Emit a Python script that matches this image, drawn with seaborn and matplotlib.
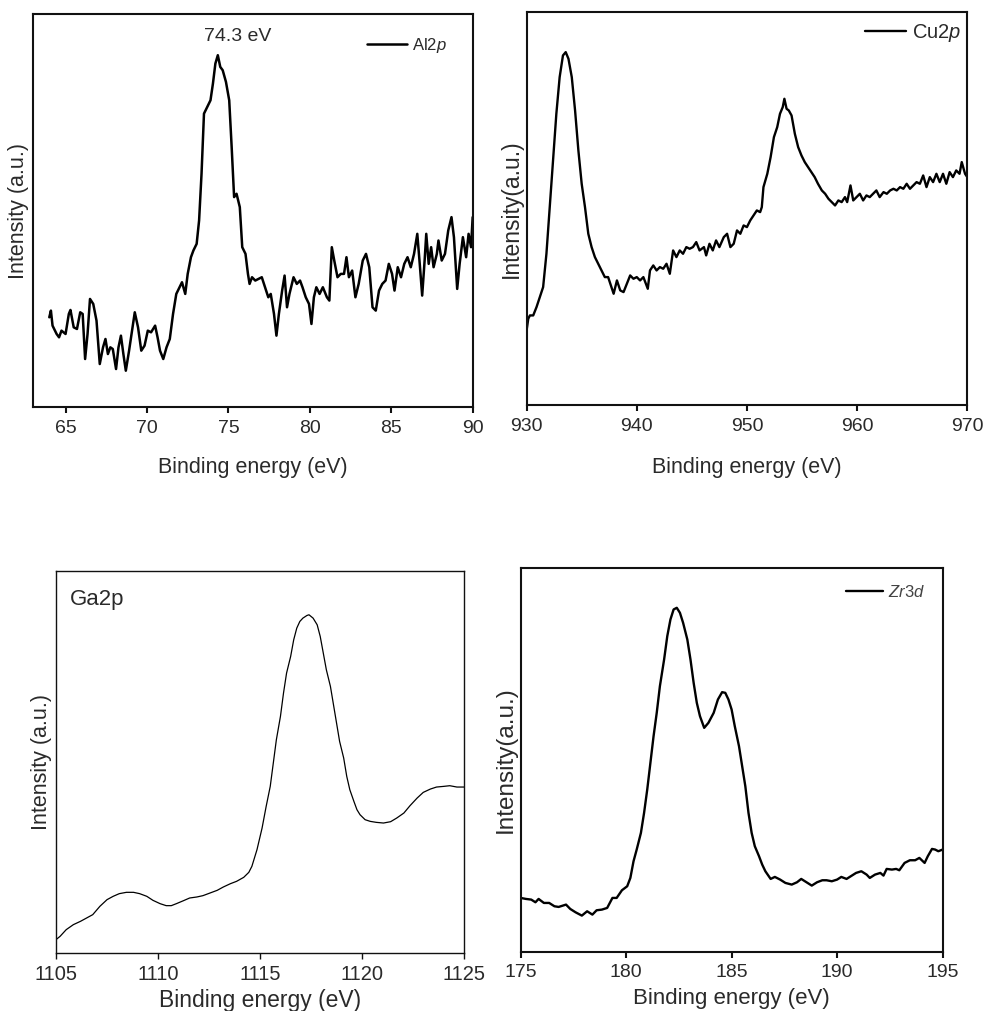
import numpy as np
import pandas as pd
import matplotlib
matplotlib.use("Agg")
import matplotlib.pyplot as plt
import seaborn as sns

# ---------------- data ----------------
al_energy = [64.0, 64.1, 64.2, 64.45, 64.6, 64.75, 65.0, 65.2, 65.3, 65.5, 65.7, 65.9, 66.05, 66.2, 66.35,
             66.5, 66.7, 66.9, 67.1, 67.3, 67.45, 67.6, 67.75, 67.9, 68.1, 68.25, 68.4, 68.55, 68.7, 68.9,
             69.05, 69.25, 69.45, 69.65, 69.85, 70.05, 70.25, 70.5, 70.65, 70.8, 71.0, 71.2, 71.4, 71.6,
             71.8, 72.0, 72.15, 72.35, 72.5, 72.7, 72.85, 73.05, 73.2, 73.35, 73.5, 73.7, 73.9, 74.05,
             74.2, 74.35, 74.5, 74.65, 74.85, 75.05, 75.2, 75.35, 75.5, 75.7, 75.85, 76.05, 76.2, 76.3,
             76.45, 76.65, 76.85, 77.05, 77.25, 77.45, 77.6, 77.8, 77.95, 78.1, 78.3, 78.45, 78.6, 78.75,
             79.0, 79.2, 79.4, 79.55, 79.75, 79.95, 80.1, 80.25, 80.4, 80.6, 80.8, 81.05, 81.2, 81.35,
             81.5, 81.7, 81.9, 82.1, 82.25, 82.4, 82.6, 82.8, 83.0, 83.25, 83.45, 83.65, 83.85, 84.05,
             84.25, 84.45, 84.65, 84.85, 85.05, 85.2, 85.4, 85.6, 85.8, 86.0, 86.2, 86.4, 86.6, 86.75,
             86.9, 87.05, 87.15, 87.3, 87.45, 87.6, 87.8, 87.9, 88.1, 88.3, 88.5, 88.7, 88.85, 89.05,
             89.2, 89.4, 89.6, 89.75, 89.9, 90.0]
al_intensity = [270, 290, 245, 220, 210, 230, 220, 280, 292, 240, 235, 285, 280, 145, 220,
                325, 310, 260, 130, 180, 205, 160, 180, 175, 115, 180, 215, 160, 110, 170,
                220, 285, 240, 170, 185, 230, 225, 245, 210, 170, 145, 180, 205, 280,
                340, 360, 375, 340, 400, 450, 470, 490, 560, 700, 880, 900, 920, 970,
                1030, 1055, 1020, 1010, 975, 920, 780, 630, 640, 600, 480, 460, 400, 370,
                390, 380, 385, 390, 360, 330, 340, 280, 215, 280, 350, 395, 300, 340,
                390, 370, 380, 360, 330, 310, 250, 330, 360, 340, 360, 330, 320, 480,
                440, 390, 400, 400, 450, 390, 410, 330, 370, 440, 460, 420, 300, 290,
                350, 370, 380, 430, 400, 350, 420, 390, 430, 450, 420, 460, 520, 430,
                335, 440, 520, 430, 480, 420, 460, 500, 440, 460, 530, 570, 510, 355,
                430, 510, 450, 520, 480, 570]

cu_energy = [930.0, 930.15, 930.3, 930.6, 930.9, 931.2, 931.5, 931.8, 932.1, 932.4, 932.7, 933.0, 933.3,
             933.55, 933.8, 934.1, 934.4, 934.7, 935.0, 935.3, 935.6, 935.9, 936.2, 936.5, 936.8, 937.1,
             937.4, 937.6, 937.9, 938.2, 938.5, 938.8, 939.1, 939.4, 939.7, 940.0, 940.3, 940.6, 941.0,
             941.2, 941.5, 941.8, 942.1, 942.4, 942.7, 943.0, 943.3, 943.6, 943.9, 944.2, 944.5, 944.8,
             945.1, 945.4, 945.7, 946.1, 946.3, 946.6, 946.9, 947.2, 947.5, 947.9, 948.2, 948.5, 948.8,
             949.1, 949.4, 949.7, 950.0, 950.3, 950.6, 950.9, 951.2, 951.35, 951.5, 951.85, 952.15,
             952.45, 952.75, 953.0, 953.25, 953.4, 953.6, 953.8, 954.05, 954.35, 954.65, 954.95, 955.25,
             955.55, 955.85, 956.15, 956.45, 956.8, 957.1, 957.4, 957.7, 958.0, 958.3, 958.6, 958.9,
             959.1, 959.4, 959.65, 959.95, 960.25, 960.55, 960.85, 961.15, 961.45, 961.75, 962.05,
             962.4, 962.7, 963.0, 963.3, 963.6, 963.9, 964.2, 964.5, 964.8, 965.1, 965.4, 965.7, 966.0,
             966.3, 966.6, 966.9, 967.2, 967.5, 967.8, 968.1, 968.4, 968.7, 969.0, 969.3, 969.5, 969.8,
             970.0]
cu_intensity = [225, 260, 270, 270, 295, 325, 355, 455, 595, 735, 875, 985, 1050,
                1060, 1040, 985, 885, 765, 665, 595, 515, 475, 445, 425, 405, 385,
                385, 365, 335, 375, 345, 340, 365, 390, 380, 385, 375, 385, 350,
                405, 420, 405, 415, 410, 425, 395, 465, 445, 465, 455, 475, 470,
                475, 490, 465, 475, 450, 485, 465, 495, 475, 505, 515, 475, 485,
                525, 515, 540, 535, 555, 570, 585, 580, 595, 655, 695, 745,
                805, 835, 875, 895, 920, 890, 885, 870, 815, 775, 750, 730,
                715, 700, 685, 665, 645, 635, 620, 610, 600, 615, 610, 625,
                610, 660, 615, 625, 635, 615, 630, 625, 635, 645, 625,
                640, 635, 645, 650, 645, 655, 650, 665, 650, 660, 670, 665, 690,
                655, 685, 670, 695, 670, 695, 665, 700, 685, 705, 695, 730, 695,
                685]

ga_energy = [1105.0, 1105.2, 1105.5, 1105.85, 1106.2, 1106.5, 1106.8, 1107.15, 1107.5, 1107.8, 1108.1,
             1108.45, 1108.8, 1109.1, 1109.45, 1109.75, 1110.1, 1110.4, 1110.65, 1110.9, 1111.25,
             1111.55, 1111.9, 1112.2, 1112.55, 1112.9, 1113.2, 1113.55, 1113.85, 1114.2, 1114.45,
             1114.6, 1114.85, 1115.1, 1115.3, 1115.5, 1115.65, 1115.8, 1116.0, 1116.15, 1116.3, 1116.5,
             1116.65, 1116.8, 1116.95, 1117.1, 1117.3, 1117.4, 1117.6, 1117.8, 1117.95, 1118.1, 1118.25,
             1118.45, 1118.6, 1118.75, 1118.9, 1119.1, 1119.25, 1119.4, 1119.6, 1119.75, 1119.9,
             1120.15, 1120.4, 1120.7, 1121.05, 1121.4, 1121.7, 1122.05, 1122.35, 1122.7, 1123.0,
             1123.35, 1123.65, 1124.0, 1124.3, 1124.65, 1125.0]
ga_intensity = [40, 50, 70, 85, 95, 105, 115, 140, 160, 170, 178,
                182, 182, 178, 170, 158, 148, 142, 142, 148, 157,
                165, 168, 172, 180, 188, 198, 208, 215, 227, 242,
                260, 310, 375, 440, 500, 570, 640, 710, 780, 840, 890,
                940, 975, 995, 1005, 1013, 1015, 1005, 985, 950, 900, 850,
                800, 745, 690, 635, 585, 530, 490, 455, 430, 415,
                400, 395, 392, 390, 394, 405, 420, 442, 465, 482,
                492, 498, 500, 502, 498, 498]

zr_energy = [175.0, 175.25, 175.5, 175.7, 175.85, 176.1, 176.35, 176.6, 176.8, 177.15, 177.35, 177.6,
             177.9, 178.15, 178.4, 178.6, 178.85, 179.1, 179.35, 179.55, 179.8, 180.05, 180.2, 180.35,
             180.5, 180.7, 180.85, 181.0, 181.15, 181.3, 181.45, 181.6, 181.8, 181.95, 182.1, 182.25,
             182.4, 182.55, 182.7, 182.9, 183.05, 183.2, 183.35, 183.5, 183.7, 183.9, 184.15, 184.35,
             184.55, 184.7, 184.85, 185.0, 185.15, 185.35, 185.5, 185.65, 185.8, 185.95, 186.1, 186.3,
             186.45, 186.6, 186.85, 187.05, 187.3, 187.55, 187.85, 188.1, 188.3, 188.55, 188.8, 189.05,
             189.3, 189.5, 189.75, 190.0, 190.2, 190.45, 190.7, 190.9, 191.15, 191.4, 191.55, 191.8,
             192.05, 192.2, 192.35, 192.6, 192.8, 192.95, 193.2, 193.45, 193.7, 193.9, 194.15, 194.3,
             194.5, 194.65, 194.8, 195.0]
zr_intensity = [162, 159, 157, 149, 159, 147, 147, 137, 135, 142, 129, 119,
                109, 122, 112, 125, 127, 132, 162, 162, 185, 197, 222, 272,
                307, 357, 417, 487, 567, 647, 717, 797, 877, 947, 997, 1027,
                1032, 1017, 987, 937, 877, 807, 747, 707, 672, 687, 717, 757,
                779, 777, 757, 727, 677, 617, 557, 497, 417, 357, 317, 287,
                262, 242, 219, 225, 217, 207, 202, 209, 219, 209, 199, 209,
                215, 215, 212, 217, 225, 219, 229, 237, 242, 232, 222, 232,
                237, 229, 249, 247, 249, 245, 267, 275, 275, 282, 267, 287,
                309, 307, 302, 307]

al_ticks = [65, 70, 75, 80, 85, 90]
cu_ticks = [930, 940, 950, 960, 970]
ga_ticks = [1105, 1110, 1115, 1120, 1125]
zr_ticks = [175, 180, 185, 190, 195]

# ---------------- style ----------------
sns.set_style("ticks")
plt.rcParams['font.family'] = ['Liberation Sans', 'DejaVu Sans']
plt.rcParams['mathtext.fontset'] = 'custom'
plt.rcParams['mathtext.rm'] = 'Liberation Sans'
plt.rcParams['mathtext.it'] = 'Liberation Sans:italic'

TXT = '#2a2a2a'
fig = plt.figure(figsize=(9.88, 10.11), dpi=100)

def setup(ax, xlim, ylim, ticks, lw_spine, tick_fs, xl_fs, yl_fs, ylabel, xl_y, yl_x, pad):
    ax.set_xlim(*xlim)
    ax.set_ylim(*ylim)
    ax.set_xticks(ticks)
    ax.set_yticks([])
    for s in ax.spines.values():
        s.set_linewidth(lw_spine)
        s.set_color('#111111')
    ax.tick_params(axis='x', direction='out', length=4, width=lw_spine, pad=pad,
                   labelsize=tick_fs, colors='#111111', labelcolor=TXT)
    ax.set_xlabel('Binding energy (eV)', fontsize=xl_fs, color=TXT)
    ax.set_ylabel(ylabel, fontsize=yl_fs, color=TXT)
    ax.xaxis.set_label_coords(0.5, xl_y)
    ax.yaxis.set_label_coords(yl_x, 0.5)

# Panel 1: Al2p
ax1 = fig.add_axes([0.0334, 0.597, 0.445, 0.389])
sns.lineplot(x=al_energy, y=al_intensity, ax=ax1, color='black', lw=1.8, label=r'Al2$\it{p}$')
setup(ax1, (63, 90), (0, 1178), al_ticks, 1.5, 14, 15.5, 15.5, 'Intensity (a.u.)', -0.125, -0.009, 5)
ax1.text(0.466, 0.942, '74.3 eV', transform=ax1.transAxes, ha='center', va='center',
         fontsize=14, color=TXT)
ax1.legend(loc='center right', bbox_to_anchor=(0.94, 0.921), frameon=False, fontsize=12,
           handlelength=2.4, handletextpad=0.3, borderpad=0, borderaxespad=0, labelcolor=TXT)

# Panel 2: Cu2p
ax2 = fig.add_axes([0.533, 0.599, 0.446, 0.389])
sns.lineplot(x=cu_energy, y=cu_intensity, ax=ax2, color='black', lw=1.7, label=r'Cu2$\it{p}$')
setup(ax2, (930, 970), (0, 1180), cu_ticks, 1.5, 14, 15.5, 16.5, 'Intensity(a.u.)', -0.132, -0.009, 5)
ax2.legend(loc='center right', bbox_to_anchor=(0.986, 0.947), frameon=False, fontsize=14.5,
           handlelength=2.0, handletextpad=0.3, borderpad=0, borderaxespad=0, labelcolor=TXT)

# Panel 3: Ga2p
ax3 = fig.add_axes([0.0567, 0.0574, 0.413, 0.378])
sns.lineplot(x=ga_energy, y=ga_intensity, ax=ax3, color='black', lw=0.9)
setup(ax3, (1105, 1125), (0, 1147), ga_ticks, 1.0, 14.5, 16.5, 15.5, 'Intensity (a.u.)', -0.095, -0.01, 4.5)
ax3.text(0.034, 0.924, 'Ga2p', transform=ax3.transAxes, ha='left', va='center',
         fontsize=16, color=TXT)

# Panel 4: Zr3d
ax4 = fig.add_axes([0.527, 0.0584, 0.427, 0.380])
sns.lineplot(x=zr_energy, y=zr_intensity, ax=ax4, color='black', lw=1.7, label=r'$\it{Zr3d}$')
setup(ax4, (175, 195), (0, 1152), zr_ticks, 1.5, 14, 16, 17.5, 'Intensity(a.u.)', -0.093, -0.0095, 4.5)
ax4.legend(loc='center right', bbox_to_anchor=(0.958, 0.9375), frameon=False, fontsize=12,
           handlelength=2.2, handletextpad=0.3, borderpad=0, borderaxespad=0, labelcolor='#444444')

fig.savefig('out.png', dpi=100)
